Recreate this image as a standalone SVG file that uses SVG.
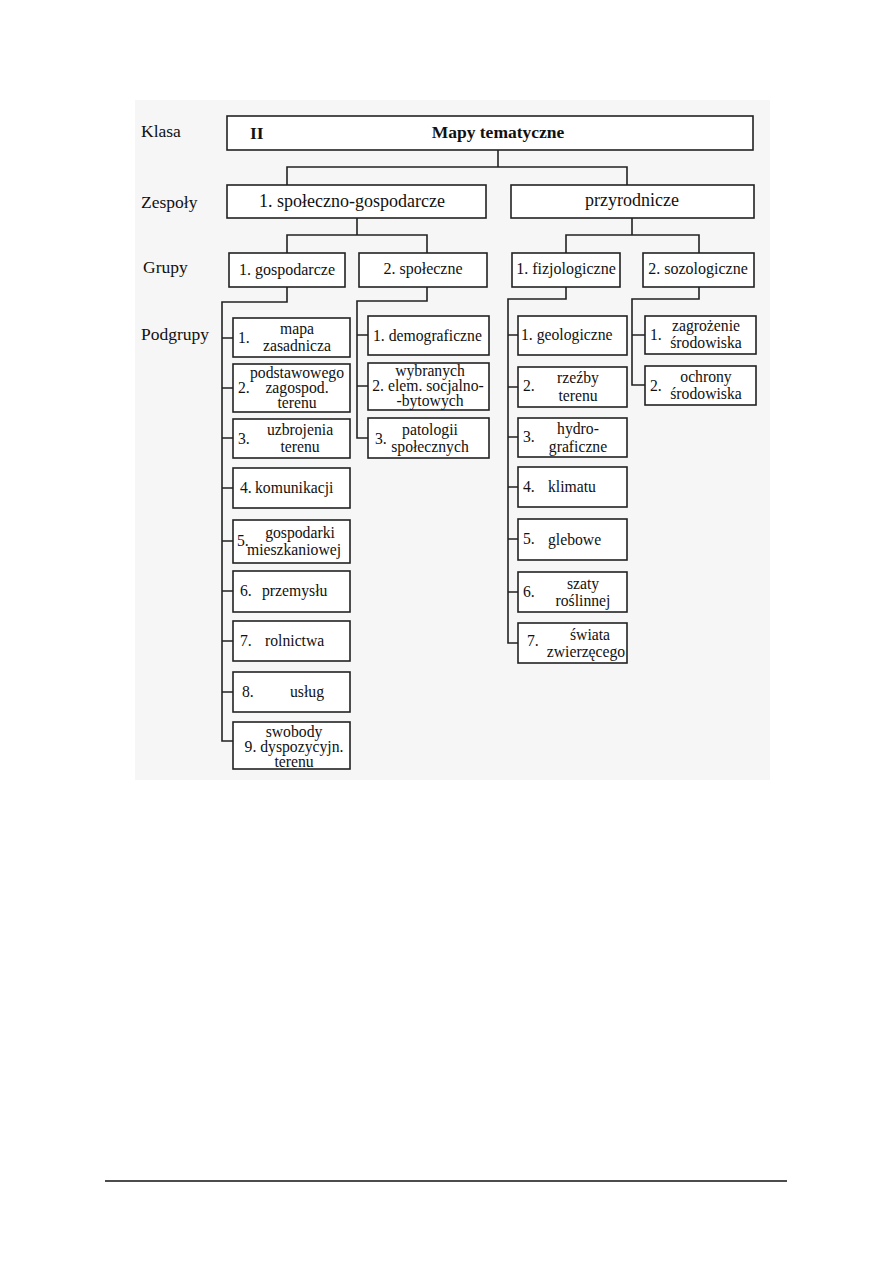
<svg xmlns="http://www.w3.org/2000/svg" width="893" height="1263" viewBox="0 0 893 1263">
<style>
text{font-family:"Liberation Serif","Times New Roman",serif;fill:#111}
.lbl{font-size:17.5px}
.z{font-size:18px;text-anchor:middle}
.g{font-size:16px;text-anchor:middle}
.s{font-size:15.7px}
.c{text-anchor:middle}
.b{fill:#fff;stroke:#222;stroke-width:1.6}
.ln{fill:none;stroke:#222;stroke-width:1.6}
</style>
<rect x="0" y="0" width="893" height="1263" fill="#fff"/>
<rect x="135" y="100" width="635" height="680" fill="#f6f6f6"/>
<g id="row-labels">
<text class="lbl" x="141" y="137">Klasa</text>
<text class="lbl" x="141" y="208">Zespoły</text>
<text class="lbl" x="143" y="273">Grupy</text>
<text class="lbl" x="141" y="340">Podgrupy</text>
</g>
<g id="connectors">
<path class="ln" d="M498 150V167M287 185V167H627V185"/>
<path class="ln" d="M357 218V235M287 253V235H427V253"/>
<path class="ln" d="M632 218V235M566 253V235H699V253"/>
<path class="ln" d="M287 287V302H222V741H233M222 338H233M222 388H233M222 438H233M222 488H233M222 541H233M222 591H233M222 641H233M222 692H233"/>
<path class="ln" d="M427 287V301H357V438H368M357 335H368M357 386H368"/>
<path class="ln" d="M566 287V299H508V643H518M508 335H518M508 387H518M508 437H518M508 487H518M508 539H518M508 592H518"/>
<path class="ln" d="M699 287V299H632V385H645M632 335H645"/>
</g>
<g id="klasa"><rect class="b" x="227" y="116" width="526" height="34"/>
<text x="250" y="139" style="font-size:17.5px;font-weight:bold">II</text>
<text x="498" y="138" class="c" style="font-size:17.5px;font-weight:bold">Mapy tematyczne</text></g>
<g id="zespol-1"><rect class="b" x="227" y="185" width="259" height="33"/><text class="z" x="352" y="207">1. społeczno-gospodarcze</text></g>
<g id="zespol-2"><rect class="b" x="511" y="185" width="243" height="33"/><text class="z" x="632" y="206">przyrodnicze</text></g>
<g id="grupa-gospodarcze"><rect class="b" x="229" y="253" width="116" height="34"/><text class="g" x="287" y="275">1. gospodarcze</text></g>
<g id="grupa-spoleczne"><rect class="b" x="359" y="253" width="128" height="34"/><text class="g" x="423" y="274">2. społeczne</text></g>
<g id="grupa-fizjologiczne"><rect class="b" x="512" y="253" width="108" height="34"/><text class="g" x="566" y="274">1. fizjologiczne</text></g>
<g id="grupa-sozologiczne"><rect class="b" x="643" y="253" width="111" height="34"/><text class="g" x="698" y="274">2. sozologiczne</text></g>

<g id="g1"><rect class="b" x="233" y="318" width="117" height="39"/><text class="s" x="238" y="343">1.</text><text class="s c" x="297" y="334">mapa</text><text class="s c" x="297" y="351">zasadnicza</text></g>
<g id="g2"><rect class="b" x="233" y="364" width="117" height="48"/><text class="s c" x="297" y="378">podstawowego</text><text class="s" x="238" y="393">2.</text><text class="s c" x="297" y="393">zagospod.</text><text class="s c" x="297" y="408">terenu</text></g>
<g id="g3"><rect class="b" x="233" y="419" width="117" height="39"/><text class="s" x="238" y="444">3.</text><text class="s c" x="300" y="435">uzbrojenia</text><text class="s c" x="300" y="452">terenu</text></g>
<g id="g4"><rect class="b" x="233" y="468" width="117" height="40"/><text class="s" x="240" y="493">4.</text><text class="s" x="255" y="493">komunikacji</text></g>
<g id="g5"><rect class="b" x="233" y="520" width="117" height="43"/><text class="s" x="237" y="546">5.</text><text class="s c" x="300" y="538">gospodarki</text><text class="s c" x="294" y="555">mieszkaniowej</text></g>
<g id="g6"><rect class="b" x="233" y="571" width="117" height="41"/><text class="s" x="240" y="596">6.</text><text class="s" x="262" y="596">przemysłu</text></g>
<g id="g7"><rect class="b" x="233" y="621" width="117" height="40"/><text class="s" x="240" y="646">7.</text><text class="s" x="265" y="646">rolnictwa</text></g>
<g id="g8"><rect class="b" x="233" y="672" width="117" height="40"/><text class="s" x="242" y="697">8.</text><text class="s" x="290" y="697">usług</text></g>
<g id="g9"><rect class="b" x="233" y="722" width="117" height="47"/><text class="s c" x="294" y="737">swobody</text><text class="s c" x="294" y="752">9. dyspozycyjn.</text><text class="s c" x="294" y="767">terenu</text></g>

<g id="s1"><rect class="b" x="368" y="316" width="121" height="39"/><text class="s" x="373" y="341">1. demograficzne</text></g>
<g id="s2"><rect class="b" x="368" y="363" width="121" height="47"/><text class="s c" x="430" y="376">wybranych</text><text class="s c" x="428" y="391">2. elem. socjalno-</text><text class="s c" x="430" y="406">-bytowych</text></g>
<g id="s3"><rect class="b" x="368" y="418" width="121" height="40"/><text class="s" x="375" y="444">3.</text><text class="s c" x="430" y="435">patologii</text><text class="s c" x="430" y="452">społecznych</text></g>

<g id="f1"><rect class="b" x="518" y="316" width="109" height="39"/><text class="s" x="521" y="340">1. geologiczne</text></g>
<g id="f2"><rect class="b" x="518" y="367" width="109" height="40"/><text class="s" x="523" y="391">2.</text><text class="s c" x="578" y="383">rzeźby</text><text class="s c" x="578" y="401">terenu</text></g>
<g id="f3"><rect class="b" x="518" y="418" width="109" height="39"/><text class="s" x="523" y="442">3.</text><text class="s c" x="578" y="434">hydro-</text><text class="s c" x="578" y="452">graficzne</text></g>
<g id="f4"><rect class="b" x="518" y="467" width="109" height="40"/><text class="s" x="523" y="492">4.</text><text class="s" x="548" y="492">klimatu</text></g>
<g id="f5"><rect class="b" x="518" y="519" width="109" height="41"/><text class="s" x="523" y="544">5.</text><text class="s" x="548" y="545">glebowe</text></g>
<g id="f6"><rect class="b" x="518" y="572" width="109" height="40"/><text class="s" x="523" y="597">6.</text><text class="s c" x="583" y="589">szaty</text><text class="s c" x="583" y="606">roślinnej</text></g>
<g id="f7"><rect class="b" x="518" y="623" width="109" height="40"/><text class="s" x="527" y="646">7.</text><text class="s c" x="590" y="640">świata</text><text class="s c" x="586" y="657">zwierzęcego</text></g>

<g id="z1"><rect class="b" x="645" y="316" width="111" height="38"/><text class="s" x="650" y="340">1.</text><text class="s c" x="706" y="331">zagrożenie</text><text class="s c" x="706" y="348">środowiska</text></g>
<g id="z2"><rect class="b" x="645" y="366" width="111" height="39"/><text class="s" x="650" y="391">2.</text><text class="s c" x="706" y="382">ochrony</text><text class="s c" x="706" y="399">środowiska</text></g>

<line x1="105" y1="1181" x2="787" y2="1181" stroke="#111" stroke-width="1.5"/>
</svg>
